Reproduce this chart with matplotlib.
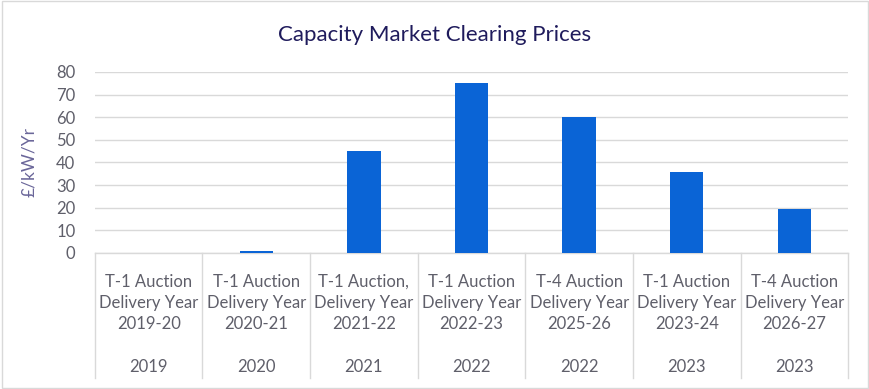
import matplotlib
matplotlib.use("Agg")
import matplotlib.pyplot as plt
from matplotlib.patches import Rectangle

# ---------------------------
# Data
# ---------------------------
auction_labels = [
    "T-1 Auction\nDelivery Year\n2019-20",
    "T-1 Auction\nDelivery Year\n2020-21",
    "T-1 Auction,\nDelivery Year\n2021-22",
    "T-1 Auction\nDelivery Year\n2022-23",
    "T-4 Auction\nDelivery Year\n2025-26",
    "T-1 Auction\nDelivery Year\n2023-24",
    "T-4 Auction\nDelivery Year\n2026-27",
]
auction_years = ["2019", "2020", "2021", "2022", "2022", "2023", "2023"]
prices = [0, 1, 45, 75, 60, 35.79, 19.4]

# ---------------------------
# Styles
# ---------------------------
plt.rcParams["font.family"] = ["Lato", "DejaVu Sans"]
bar_color = "#0A64D6"
text_color = "#5F5F6A"
grid_color = "#D9D9D9"

fig = plt.figure(figsize=(8.7, 3.89), dpi=100)
ax = fig.add_axes([0.109, 0.35, 0.866, 0.465])

x = range(len(prices))
ax.bar(x, prices, width=0.31, color=bar_color, zorder=3)

ax.set_xlim(-0.5, len(prices) - 0.5)
ax.set_ylim(0, 80)
ax.set_yticks(range(0, 81, 10))
ax.tick_params(axis="y", length=0, labelsize=12, labelcolor=text_color, pad=14)
ax.tick_params(axis="x", length=0, labelbottom=False)
ax.yaxis.grid(True, color=grid_color, linewidth=1, zorder=0)
for side in ["top", "right", "left"]:
    ax.spines[side].set_visible(False)
ax.spines["bottom"].set_color(grid_color)
ax.spines["bottom"].set_linewidth(1)

ax.set_ylabel("£/kW/Yr", fontsize=12.5, color="#6A6699", labelpad=14)

# multi-level category axis
trans = ax.get_xaxis_transform()
for i in range(len(prices) + 1):
    ax.plot([i - 0.5, i - 0.5], [0, -0.69], transform=trans, color=grid_color,
            linewidth=1, clip_on=False)
for i, (lab, yr) in enumerate(zip(auction_labels, auction_years)):
    ax.text(i, -0.276, lab, transform=trans, ha="center", va="center",
            fontsize=12, color=text_color, linespacing=1.4)
    ax.text(i, -0.63, yr, transform=trans, ha="center", va="center",
            fontsize=12, color=text_color)

fig.suptitle("Capacity Market Clearing Prices", y=0.935, fontsize=16,
             color="#1F1B5C")

# chart border
fig.patches.append(Rectangle((0.002, 0.003), 0.996, 0.994, transform=fig.transFigure,
                             fill=False, edgecolor="#D9D9D9", linewidth=1))

fig.savefig("out.png", dpi=100)
